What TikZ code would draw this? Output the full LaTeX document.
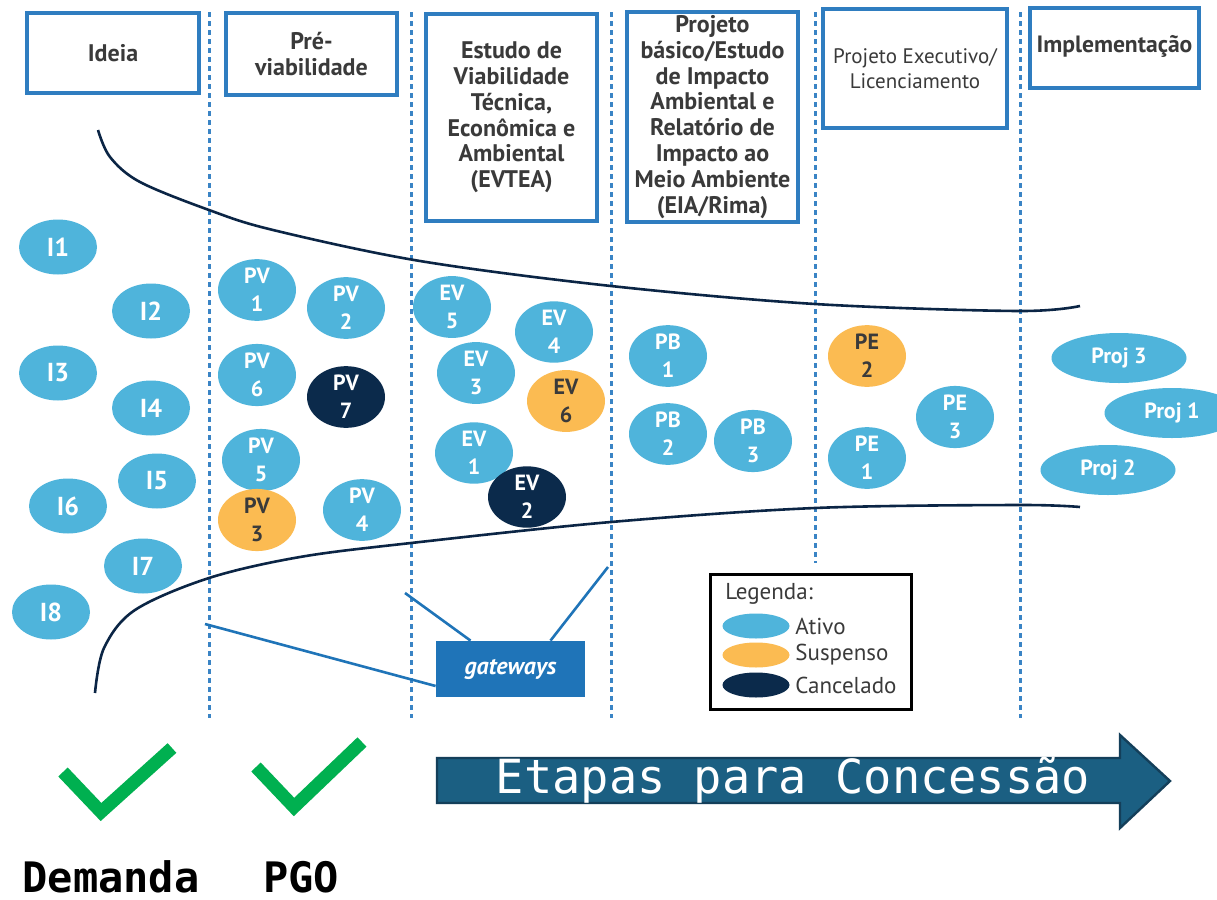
\documentclass[tikz,border=0pt]{standalone}
\usepackage{fontspec}
\setmainfont{PT Sans}
\newfontfamily\monof{DejaVu Sans Mono}
\usetikzlibrary{shapes.geometric}
\definecolor{boxblue}{HTML}{2F7DC0}
\definecolor{dotblue}{HTML}{3A84C5}
\definecolor{navy}{HTML}{0B2545}
\definecolor{actc}{HTML}{4FB4DB}
\definecolor{susc}{HTML}{FBBB52}
\definecolor{canc}{HTML}{0B2A4B}
\definecolor{gwblue}{HTML}{1F74B8}
\definecolor{arrowfill}{HTML}{1B5F82}
\definecolor{arrowedge}{HTML}{143F5A}
\definecolor{chk}{HTML}{00B050}
\definecolor{hdr}{HTML}{3A3A3A}
\begin{document}
\begin{tikzpicture}[x=0.5pt,y=-0.5pt,
  stagebox/.style={draw=boxblue, line width=1.7pt, align=center, text=hdr,
    font=\fontsize{12}{12.9}\selectfont\bfseries, inner sep=0pt},
  sepline/.style={dotblue, line width=1.5pt, dash pattern=on 2.5pt off 2pt},
  ellbase/.style={ellipse, minimum width=39pt, minimum height=27.5pt, inner sep=0pt,
    align=center, font=\fontsize{11}{14}\selectfont\bfseries},
  ellA/.style={ellbase, fill=actc, text=white},
  ellS/.style={ellbase, fill=susc, text=hdr},
  ellC/.style={ellbase, fill=canc, text=white},
  idnode/.style={ellA, font=\fontsize{13}{16}\selectfont\bfseries},
  projnode/.style={ellA, minimum width=67.5pt, minimum height=25pt, font=\fontsize{11}{13}\selectfont\bfseries},
  curveline/.style={navy, line width=1.3pt},
  gwline/.style={gwblue, line width=1.3pt},
  legell/.style={ellipse, minimum width=33.5pt, minimum height=12.5pt, inner sep=0pt},
  legtext/.style={anchor=west, inner sep=0pt, text=hdr, font=\fontsize{11.5}{13}\selectfont},
  checkline/.style={chk, line width=6.5pt, miter limit=10},
  bigword/.style={inner sep=0pt, anchor=base, text depth=0pt, font=\monof\bfseries\fontsize{21}{24}\selectfont}
]
\useasboundingbox (0,0) rectangle (1217,900);
\fill[white] (0,0) rectangle (1217,900);

% separators
\foreach \xx in {209,411,611,1020} \draw[sepline] (\xx,12) -- (\xx,718);
\draw[sepline] (815,12) -- (815,563);

% stage boxes
\node[stagebox, minimum width=86pt, minimum height=40pt] (ideia) at (113,53) {Ideia};
\node[stagebox, minimum width=85.5pt, minimum height=41pt] (prev) at (311.5,54) {Pré-\\viabilidade};
\node[stagebox, minimum width=85.5pt, minimum height=103.5pt] (evtea) at (511.5,117.5)
  {Estudo de\\Viabilidade\\Técnica,\\Econômica e\\Ambiental\\(EVTEA)};
\node[stagebox, minimum width=85.5pt, minimum height=105pt] (pbas) at (712.5,117)
  {Projeto\\básico/Estudo\\de Impacto\\Ambiental e\\Relatório de\\Impacto ao\\Meio Ambiente\\(EIA/Rima)};
\node[stagebox, minimum width=92pt, minimum height=59.5pt, font=\fontsize{10.5}{12.5}\selectfont] (pexe) at (915,68.5)
  {Projeto Executivo/\\Licenciamento};
\node[stagebox, minimum width=84.5pt, minimum height=40pt] (impl) at (1114.5,48) {};
\node[text=hdr, font=\fontsize{11.8}{13}\selectfont\bfseries] (impltxt) at (1114.5,46) {Implementação};

% funnel curves
\draw[curveline] plot[smooth, tension=0.55] coordinates
  {(98,130) (110,157) (140,182) (209,210) (273,230) (420,261) (611,286) (815,304) (1017,311) (1080,306)};
\draw[curveline] plot[smooth, tension=0.55] coordinates
  {(95,693) (104,648) (135,610) (209,578) (300,557) (411,543) (611,522) (815,508) (1017,505) (1080,507)};

% Ideia
\node[idnode] (i1) at (58,247) {I1};
\node[idnode] (i2) at (151,311) {I2};
\node[idnode] (i3) at (58,373) {I3};
\node[idnode] (i4) at (151,408) {I4};
\node[idnode] (i5) at (157,481) {I5};
\node[idnode] (i6) at (68,506) {I6};
\node[idnode] (i7) at (143,566) {I7};
\node[idnode] (i8) at (51,612) {I8};

% Pre-viabilidade
\node[ellA] (pv1) at (257,290) {PV\\1};
\node[ellA] (pv2) at (346,308) {PV\\2};
\node[ellA] (pv6) at (257,375) {PV\\6};
\node[ellC] (pv7) at (346,397) {PV\\7};
\node[ellA] (pv5) at (261,460) {PV\\5};
\node[ellS] (pv3) at (257,520) {PV\\3};
\node[ellA] (pv4) at (362,510) {PV\\4};

% EVTEA
\node[ellA] (ev5) at (452,307) {EV\\5};
\node[ellA] (ev4) at (554,332) {EV\\4};
\node[ellA] (ev3) at (476,373) {EV\\3};
\node[ellS] (ev6) at (566,401) {EV\\6};
\node[ellA] (ev1) at (474,453) {EV\\1};
\node[ellC] (ev2) at (527,497) {EV\\2};

% Projeto basico
\node[ellA] (pb1) at (668,356) {PB\\1};
\node[ellA] (pb2) at (668,434) {PB\\2};
\node[ellA] (pb3) at (753,441) {PB\\3};

% Projeto executivo
\node[ellS] (pe2) at (867,356) {PE\\2};
\node[ellA] (pe3) at (955,417) {PE\\3};
\node[ellA] (pe1) at (867,458) {PE\\1};

% Implementacao
\node[projnode] (proj3) at (1119,358) {Proj 3};
\node[projnode] (proj1) at (1172,413) {Proj 1};
\node[projnode] (proj2) at (1108,470) {Proj 2};

% gateways
\node[fill=gwblue, minimum width=74.5pt, minimum height=28pt, inner sep=0pt, text=white,
  font=\fontsize{12}{13}\selectfont\bfseries\itshape] (gw) at (510.5,669) {gateways};
\coordinate (gwa) at (205,624);
\coordinate (gwb) at (405,593);
\coordinate (gwc) at (608,567);
\draw[gwline] (gwa) -- ([yshift=-8.5pt]gw.west);
\draw[gwline] (gwb) -- ([xshift=-20pt]gw.north);
\draw[gwline] (gwc) -- ([xshift=20pt]gw.north);

% legend
\node[draw=black, line width=1.5pt, minimum width=100.5pt, minimum height=67.5pt, inner sep=0pt] (leg) at (810.5,641.5) {};
\node[legtext] (legt) at (725,594) {Legenda:};
\node[legell, fill=actc] (la) at (756,626) {};
\node[legell, fill=susc] (ls) at (756,655) {};
\node[legell, fill=canc] (lc) at (756,685) {};
\node[legtext] (lat) at (795,626) {Ativo};
\node[legtext] (lst) at (795,655) {Suspenso};
\node[legtext] (lct) at (795,685) {Cancelado};

% checks
\draw[checkline] (63,772) -- (101,812) -- (172,748);
\draw[checkline] (256,767) -- (294,807) -- (362,742);
\node[bigword] (dem) at (111,892) {Demanda};
\node[bigword] (pgo) at (301,892) {PGO};

% big arrow
\draw[fill=arrowfill, draw=arrowedge, line width=1.2pt]
  (437,758) -- (1120,758) -- (1120,735) -- (1170,781) -- (1120,828) -- (1120,803) -- (437,803) -- cycle;
\node[text=white, font=\monof\fontsize{23.5}{26}\selectfont] (etapas) at (793,780) {Etapas para Concessão};
\end{tikzpicture}
\end{document}
